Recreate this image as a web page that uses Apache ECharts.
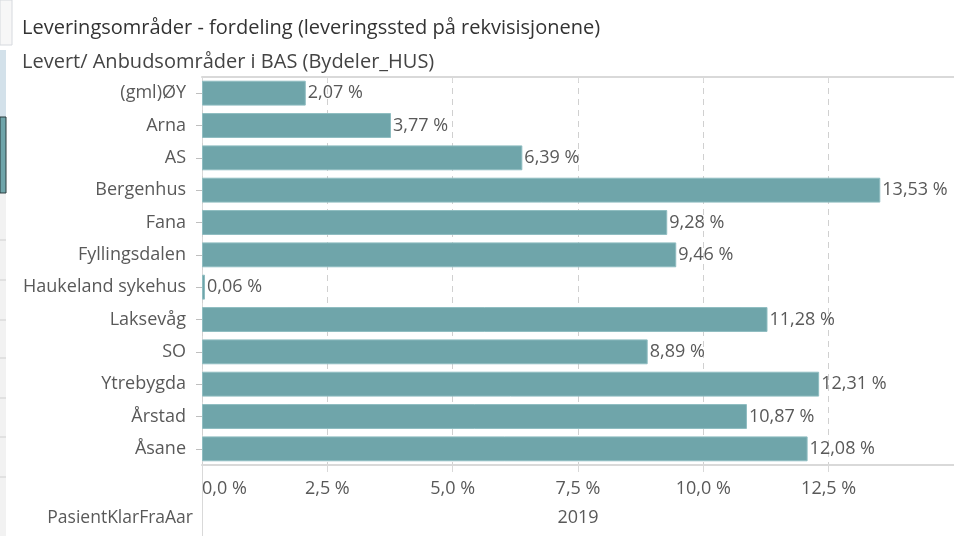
<!DOCTYPE html>
<html>
<head>
<meta charset="utf-8">
<script src="https://cdn.jsdelivr.net/npm/echarts@6/dist/echarts.min.js"></script>
<style>
  html, body { margin: 0; padding: 0; background: #fff; }
  #chart { width: 954px; height: 536px; }
</style>
</head>
<body>
<div id="chart"></div>
<script>
var categories = ['(gml)ØY', 'Arna', 'AS', 'Bergenhus', 'Fana', 'Fyllingsdalen',
  'Haukeland sykehus', 'Laksevåg', 'SO', 'Ytrebygda', 'Årstad', 'Åsane']
var shares = [2.07, 3.77, 6.39, 13.53, 9.28, 9.46, 0.06, 11.28, 8.89, 12.31, 10.87, 12.08]
var yearLabel = '2019'
var yearField = 'PasientKlarFraAar'
var titleText = 'Leveringsområder - fordeling (leveringssted på rekvisisjonene)'
var subtitleText = 'Levert/ Anbudsområder i BAS (Bydeler_HUS)'

var font = 'Open Sans'
var gray = '#595959'

var chart = echarts.init(document.getElementById('chart'), null, { renderer: 'canvas' })

chart.setOption({
  animation: false,
  textStyle: { fontFamily: font },
  grid: { left: 202, right: 0, top: 77, bottom: 71, containLabel: false },
  xAxis: [
    {
      type: 'value',
      min: 0,
      max: 15,
      interval: 2.5,
      axisLine: { show: true, lineStyle: { color: '#d9d9d9', width: 2 } },
      axisTick: { show: true, length: 7, lineStyle: { color: '#d9d9d9' } },
      axisLabel: {
        color: gray,
        fontSize: 18,
        margin: 15,
        showMaxLabel: false,
        alignMinLabel: 'left',
        formatter: function (v) { return v.toFixed(1).replace('.', ',') + ' %' }
      },
      splitLine: { show: true, lineStyle: { color: '#d0d0d0', type: [6, 5] } }
    },
    {
      type: 'value',
      position: 'top',
      min: 0,
      max: 15,
      interval: 2.5,
      axisLine: { show: true, lineStyle: { color: '#d9d9d9', width: 2 } },
      axisTick: { show: true, inside: true, length: 5, lineStyle: { color: '#d9d9d9' } },
      axisLabel: { show: false },
      splitLine: { show: false }
    }
  ],
  yAxis: {
    type: 'category',
    data: categories,
    inverse: true,
    axisLine: { show: false },
    axisTick: { show: true, alignWithLabel: true, length: 6, lineStyle: { color: '#bfbfbf' } },
    axisLabel: { color: gray, fontSize: 18, margin: 16 }
  },
  series: [{
    type: 'bar',
    data: shares,
    barCategoryGap: '23%',
    itemStyle: { color: '#6fa5aa', borderColor: '#8fbdc1', borderWidth: 1 },
    label: {
      show: true,
      position: 'right',
      distance: 2,
      color: gray,
      fontSize: 18,
      formatter: function (p) { return p.value.toFixed(2).replace('.', ',') + ' %' }
    }
  }],
  graphic: [
    // left strip fragments of the surrounding report UI
    { type: 'rect', shape: { x: 0, y: 0, width: 12, height: 45 }, style: { fill: '#f7f7f7', stroke: '#d6d9de', lineWidth: 1 } },
    { type: 'rect', shape: { x: 0, y: 50, width: 6, height: 67 }, style: { fill: '#d3e1ea' } },
    { type: 'rect', shape: { x: 0, y: 117, width: 6, height: 76 }, style: { fill: '#6fa5aa', stroke: '#2b3a3c', lineWidth: 1 } },
    { type: 'rect', shape: { x: 0, y: 194, width: 6, height: 342 }, style: { fill: '#f2f2f2' } },
    { type: 'line', shape: { x1: 0, y1: 240, x2: 6, y2: 240 }, style: { stroke: '#d0d0d0' } },
    { type: 'line', shape: { x1: 0, y1: 280, x2: 6, y2: 280 }, style: { stroke: '#d0d0d0' } },
    { type: 'line', shape: { x1: 0, y1: 320, x2: 6, y2: 320 }, style: { stroke: '#d0d0d0' } },
    { type: 'line', shape: { x1: 0, y1: 358, x2: 6, y2: 358 }, style: { stroke: '#d0d0d0' } },
    { type: 'line', shape: { x1: 0, y1: 398, x2: 6, y2: 398 }, style: { stroke: '#d0d0d0' } },
    { type: 'line', shape: { x1: 0, y1: 437, x2: 6, y2: 437 }, style: { stroke: '#d0d0d0' } },
    { type: 'line', shape: { x1: 0, y1: 477, x2: 6, y2: 477 }, style: { stroke: '#d0d0d0' } },
    // titles
    { type: 'text', x: 22, y: 28, style: { text: titleText, fill: '#333', font: '20px "Open Sans"', verticalAlign: 'middle' } },
    { type: 'text', x: 22, y: 62, style: { text: subtitleText, fill: '#444', font: '20px "Open Sans"', verticalAlign: 'middle' } },
    // vertical axis line running down past the year row
    { type: 'line', shape: { x1: 202.5, y1: 77, x2: 202.5, y2: 536 }, style: { stroke: '#d9d9d9', lineWidth: 1 } },
    // year row
    { type: 'text', x: 193, y: 518, style: { text: yearField, fill: gray, font: '17.5px "Open Sans"', align: 'right', verticalAlign: 'middle' } },
    { type: 'text', x: 578, y: 518, style: { text: yearLabel, fill: gray, font: '18px "Open Sans"', align: 'center', verticalAlign: 'middle' } }
  ]
})
</script>
</body>
</html>
